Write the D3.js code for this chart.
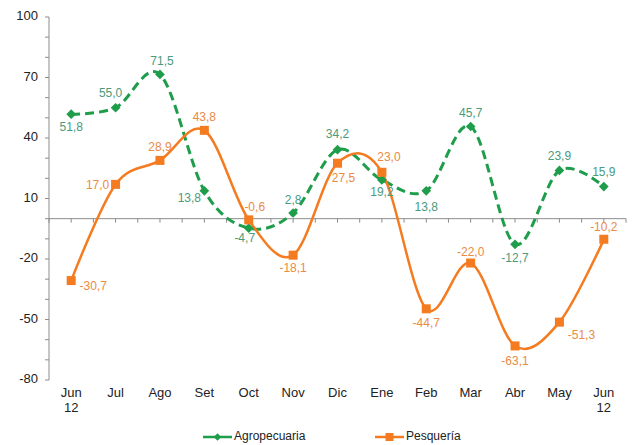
<!DOCTYPE html>
<html>
<head>
<meta charset="utf-8">
<script src="https://cdn.jsdelivr.net/npm/d3@7"></script>
<style>
	body { margin: 0; background: #fff; }
	svg { display: block; font-family: "Liberation Sans", Arial, sans-serif; }
</style>
</head>
<body>
<svg width="635" height="445"></svg>
<script>
var months = ['Jun|12', 'Jul', 'Ago', 'Set', 'Oct', 'Nov', 'Dic', 'Ene', 'Feb', 'Mar', 'Abr', 'May', 'Jun|12'];
var agro = [51.8, 55.0, 71.5, 13.8, -4.7, 2.8, 34.2, 19.2, 13.8, 45.7, -12.7, 23.9, 15.9];
var pesq = [-30.7, 17.0, 28.9, 43.8, -0.6, -18.1, 27.5, 23.0, -44.7, -22.0, -63.1, -51.3, -10.2];
var y_ticks = [100, 70, 40, 10, -20, -50, -80];

// label offsets [dx, dy] relative to the point
var agro_off = [[0, 14], [-5, -14], [2, -13], [-15, 8], [-4, 11], [0, -12], [0, -15], [0, 13], [0, 17], [0, -13], [0, 15], [0, -14], [0, -14]];
var pesq_off = [[22, 6], [-18, 1], [0, -13], [0, -13], [6, -12], [0, 14], [6, 16], [7, -14], [0, 15], [0, -10], [0, 16], [22, 14], [0, -11]];

var green = '#1e9d4b';
var orange = '#f47b20';
var green_lbl = '#4a9a7c';
var orange_lbl = '#ea8a43';

var svg = d3.select('svg');
var x = d3.scaleBand().domain(d3.range(months.length)).range([49, 626]);
var y = d3.scaleLinear().domain([-80, 100]).range([380, 17]);
var cx = i => x(i) + x.bandwidth() / 2;

// Y axis
svg.append('line')
	.attr('x1', 49).attr('x2', 49)
	.attr('y1', y(100)).attr('y2', y(-80))
	.attr('stroke', '#8c8c8c');
svg.selectAll('.ytick')
	.data(d3.range(-80, 101, 10))
	.enter().append('line')
	.attr('x1', 45).attr('x2', 49)
	.attr('y1', d => y(d)).attr('y2', d => y(d))
	.attr('stroke', '#8c8c8c');
svg.selectAll('.ylabel')
	.data(y_ticks)
	.enter().append('text')
	.attr('x', 38)
	.attr('y', d => y(d))
	.attr('text-anchor', 'end')
	.attr('dominant-baseline', 'middle')
	.attr('font-size', 13)
	.attr('fill', '#222')
	.text(d => d);

// X axis at zero
svg.append('line')
	.attr('x1', 49).attr('x2', 626)
	.attr('y1', y(0)).attr('y2', y(0))
	.attr('stroke', '#8c8c8c');
svg.selectAll('.xtick')
	.data(d3.range(0, months.length * 2 + 1))
	.enter().append('line')
	.attr('x1', d => 49 + d * x.bandwidth() / 2)
	.attr('x2', d => 49 + d * x.bandwidth() / 2)
	.attr('y1', y(0)).attr('y2', y(0) + 4)
	.attr('stroke', '#8c8c8c');

var xl = svg.selectAll('.xlabel')
	.data(months)
	.enter().append('text')
	.attr('text-anchor', 'middle')
	.attr('font-size', 13)
	.attr('fill', '#222');
xl.each(function(d, i)
{
	var parts = d.split('|');
	var t = d3.select(this);
	parts.forEach((p, k) => t.append('tspan').attr('x', cx(i)).attr('y', 397 + k * 15).text(p));
});

// Series
var line = d3.line()
	.x((d, i) => cx(i))
	.y(d => y(d))
	.curve(d3.curveCardinal.tension(0));

svg.append('path')
	.attr('d', line(agro))
	.attr('fill', 'none')
	.attr('stroke', green)
	.attr('stroke-width', 3)
	.attr('stroke-dasharray', '9,5');
svg.append('path')
	.attr('d', line(pesq))
	.attr('fill', 'none')
	.attr('stroke', orange)
	.attr('stroke-width', 2.5);

var diamond = d3.symbol().type(d3.symbolDiamond2).size(60);
svg.selectAll('.agro')
	.data(agro)
	.enter().append('path')
	.attr('d', diamond)
	.attr('transform', (d, i) => 'translate(' + cx(i) + ',' + y(d) + ')')
	.attr('fill', green);
svg.selectAll('.pesq')
	.data(pesq)
	.enter().append('rect')
	.attr('x', (d, i) => cx(i) - 4.5)
	.attr('y', d => y(d) - 4.5)
	.attr('width', 9).attr('height', 9)
	.attr('fill', orange);

var fmt = v => v.toFixed(1).replace('.', ',');
svg.selectAll('.agrolbl')
	.data(agro)
	.enter().append('text')
	.attr('x', (d, i) => cx(i) + agro_off[i][0])
	.attr('y', (d, i) => y(d) + agro_off[i][1])
	.attr('text-anchor', 'middle')
	.attr('dominant-baseline', 'middle')
	.attr('font-size', 12)
	.attr('fill', green_lbl)
	.text(fmt);
svg.selectAll('.pesqlbl')
	.data(pesq)
	.enter().append('text')
	.attr('x', (d, i) => cx(i) + pesq_off[i][0])
	.attr('y', (d, i) => y(d) + pesq_off[i][1])
	.attr('text-anchor', 'middle')
	.attr('dominant-baseline', 'middle')
	.attr('font-size', 12)
	.attr('fill', orange_lbl)
	.text(fmt);

// Legend
var legend = [
	{ name: 'Agropecuaria', color: green, x: 203, marker: 'diamond' },
	{ name: 'Pesquería', color: orange, x: 375, marker: 'square' }
];
var lg = svg.selectAll('.legend')
	.data(legend)
	.enter().append('g')
	.attr('transform', d => 'translate(' + d.x + ',437)');
lg.append('line')
	.attr('x1', 0).attr('x2', 29)
	.attr('stroke', d => d.color)
	.attr('stroke-width', 2.5);
lg.filter(d => d.marker === 'diamond').append('path')
	.attr('d', d3.symbol().type(d3.symbolDiamond2).size(36))
	.attr('transform', 'translate(14.5,0)')
	.attr('fill', d => d.color);
lg.filter(d => d.marker === 'square').append('rect')
	.attr('x', 10.5).attr('y', -4).attr('width', 8).attr('height', 8)
	.attr('fill', d => d.color);
lg.append('text')
	.attr('x', 31)
	.attr('dominant-baseline', 'middle')
	.attr('font-size', 12)
	.attr('fill', '#222')
	.text(d => d.name);
</script>
</body>
</html>
